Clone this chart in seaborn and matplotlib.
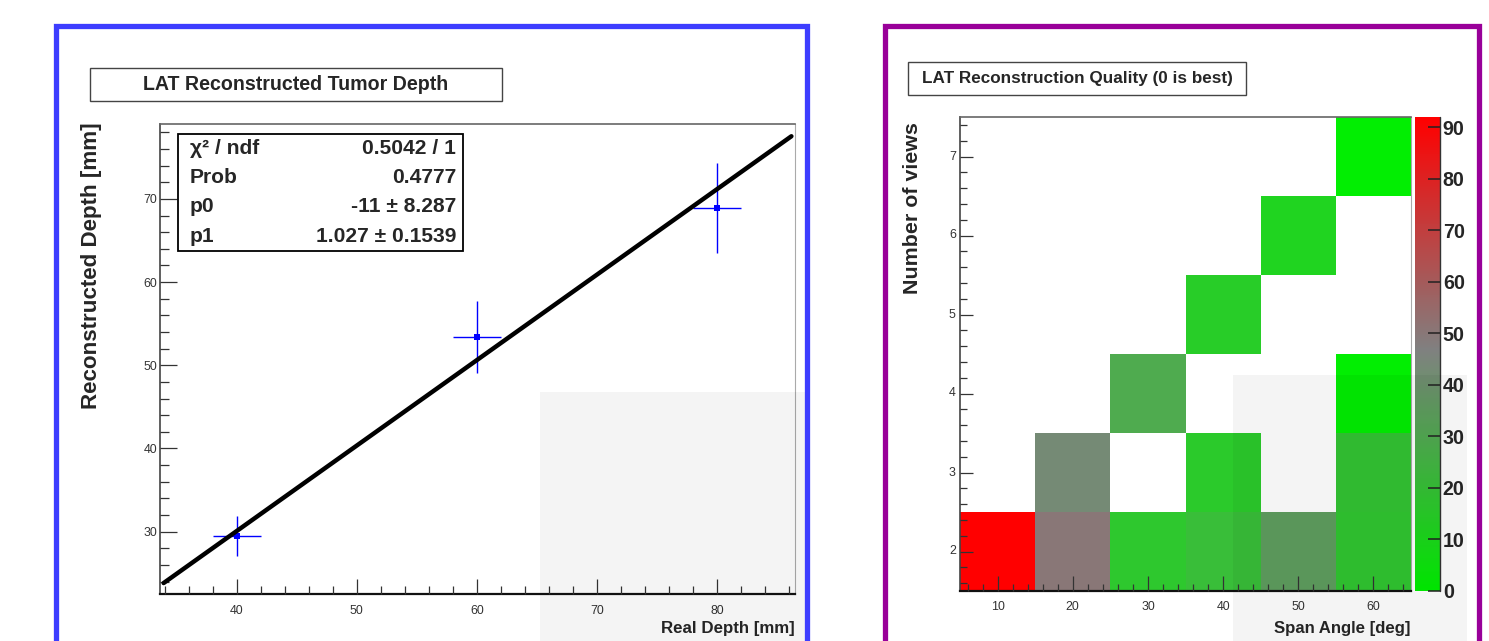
import numpy as np
import pandas as pd
import matplotlib
matplotlib.use("Agg")
import matplotlib.pyplot as plt
import seaborn as sns
from matplotlib import font_manager
from matplotlib.patches import Rectangle
from matplotlib.colors import LinearSegmentedColormap

# ---------------- data ----------------
real_depth = [40, 60, 80]
reco_depth = [29.5, 53.4, 68.9]
depth_xerr = [2.0, 2.0, 2.0]
depth_yerr = [2.4, 4.3, 5.4]
fit_p0 = -11.0
fit_p1 = 1.027
fit_range = [33.9, 86.2]
stats_labels = ["χ² / ndf", "Prob", "p0", "p1"]
stats_values = ["0.5042 / 1", "0.4777", "-11 ± 8.287", "1.027 ± 0.1539"]

span_angles = [10, 20, 30, 40, 50, 60]
n_views = [2, 3, 4, 5, 6, 7]
nan = np.nan
q_views2 = [92, 50, 17, 21, 35, 18]
q_views3 = [nan, 43, nan, 16, nan, 19]
q_views4 = [nan, nan, 29, nan, nan, 1]
q_views5 = [nan, nan, nan, 15, nan, nan]
q_views6 = [nan, nan, nan, nan, 12, nan]
q_views7 = [nan, nan, nan, nan, nan, 1]
cbar_ticks = list(range(0, 91, 10))

# ---------------- style ----------------
sns.set_style("white")
names = {f.name for f in font_manager.fontManager.ttflist}
if "Liberation Sans Narrow" in names:
    NARROW, NS = "Liberation Sans Narrow", 1.0
else:
    NARROW, NS = "Liberation Sans", 0.83
WIDE = "Liberation Sans"
plt.rcParams["font.family"] = [NARROW, "DejaVu Sans"]
plt.rcParams["axes.axisbelow"] = False
plt.rcParams["xtick.bottom"] = True
plt.rcParams["ytick.left"] = True

W, H = 1489, 641
fig = plt.figure(figsize=(W / 100, H / 100), dpi=100)
fig.patch.set_facecolor("white")


def rect(l, t, r, b):
    return [l / W, 1 - b / H, (r - l) / W, (b - t) / H]


def fx(px):
    return px / W


def fy(py):
    return 1 - py / H


TICKC = "#333333"
TICKFS = 10.8 * NS

# ---------------- left panel ----------------
ax1 = fig.add_axes(rect(160, 124, 795, 594))
ax1.set_facecolor("white")
ax1.set_axisbelow(False)
ax1.errorbar(real_depth, reco_depth, xerr=depth_xerr, yerr=depth_yerr,
             fmt="none", ecolor="#0000ff", elinewidth=1.0, capsize=0, zorder=3)
sns.scatterplot(x=real_depth, y=reco_depth, marker="s", s=18, color="#0000ff",
                edgecolor="#0000ff", linewidth=0, ax=ax1, zorder=4)
fit_y = [fit_p0 + fit_p1 * v for v in fit_range]
sns.lineplot(x=fit_range, y=fit_y, color="black", linewidth=3.2, ax=ax1, zorder=5)
ax1.set_xlim(33.6, 86.5)
ax1.set_ylim(22.5, 79)
ax1.set_xticks([40, 50, 60, 70, 80])
ax1.set_yticks([30, 40, 50, 60, 70])
ax1.set_xticks([v for v in range(34, 87, 2) if v % 10], minor=True)
ax1.set_yticks([v for v in range(24, 79, 2) if v % 10], minor=True)
ax1.tick_params(axis="x", which="major", direction="in", length=11, width=0.9,
                color=TICKC, pad=8, labelsize=TICKFS, labelcolor=TICKC, bottom=True)
ax1.tick_params(axis="x", which="minor", direction="in", length=5.5, width=0.9,
                color=TICKC, bottom=True)
ax1.tick_params(axis="y", which="major", direction="in", length=12, width=0.9,
                color=TICKC, pad=2, labelsize=TICKFS, labelcolor=TICKC, left=True)
ax1.tick_params(axis="y", which="minor", direction="in", length=6.5, width=0.9,
                color=TICKC, left=True)
ax1.set_xlabel("")
ax1.set_ylabel("")
for s, (c, lw) in {"bottom": ("#111111", 1.6), "left": ("#444444", 1.2),
                   "top": ("#666666", 1.2), "right": ("#aaaaaa", 0.8)}.items():
    ax1.spines[s].set_visible(True)
    ax1.spines[s].set_color(c)
    ax1.spines[s].set_linewidth(lw)

# stats box
fig.add_artist(Rectangle((fx(178), fy(251)), fx(463) - fx(178), fy(134) - fy(251),
                         transform=fig.transFigure, facecolor="white",
                         edgecolor="black", linewidth=1.3, zorder=6))
rows_y = [148.6, 177.9, 207.0, 236.4]
for lab, val, yy in zip(stats_labels, stats_values, rows_y):
    fig.text(fx(190), fy(yy), lab, ha="left", va="center", fontsize=18.2 * NS,
             fontweight="bold", family=[NARROW, "DejaVu Sans"], zorder=7)
    fig.text(fx(456), fy(yy), val, ha="right", va="center", fontsize=18.2 * NS,
             fontweight="bold", family=[NARROW, "DejaVu Sans"], zorder=7)

# title box left
fig.add_artist(Rectangle((fx(90), fy(101)), fx(502) - fx(90), fy(68) - fy(101),
                         transform=fig.transFigure, facecolor="white",
                         edgecolor="#444444", linewidth=1.0, zorder=6))
fig.text(fx(296), fy(84.5), "LAT Reconstructed Tumor Depth", ha="center", va="center",
         fontsize=17 * NS, fontweight="bold", zorder=7)

fig.text(fx(92), fy(122), "Reconstructed Depth [mm]", rotation=90, ha="center",
         va="top", fontsize=16.1, fontweight="bold", family=[WIDE, "DejaVu Sans"])
fig.text(fx(795), fy(629), "Real Depth [mm]", ha="right", va="center",
         fontsize=14.6 * NS, fontweight="bold")

# ---------------- right panel ----------------
ax2 = fig.add_axes(rect(960, 117, 1411, 591))
cax = fig.add_axes(rect(1415, 117, 1440, 591))
df = pd.DataFrame([q_views2, q_views3, q_views4, q_views5, q_views6, q_views7],
                  index=n_views, columns=span_angles)
cmap = LinearSegmentedColormap.from_list(
    "root_rg", [(0.0, "#00f000"), (47 / 92, "#808080"), (1.0, "#ff0000")])
sns.heatmap(df, ax=ax2, cmap=cmap, vmin=0, vmax=92, cbar_ax=cax, linewidths=0)
ax2.set_facecolor("white")
ax2.set_axisbelow(False)
cax.set_axisbelow(False)
ax2.set_xlim(0, 6)
ax2.set_ylim(0, 6)
ax2.set_xticks([(v - 5) / 10 for v in span_angles], labels=[str(v) for v in span_angles])
ax2.set_yticks([v - 1.5 for v in n_views], labels=[str(v) for v in n_views], rotation=0)
ax2.set_xticks([(v - 5) / 10 for v in range(6, 65, 2) if v % 10], minor=True)
ax2.set_yticks([round(v, 1) - 1.5 for v in np.arange(1.6, 7.45, 0.2)
                if abs(v - round(v)) > 0.05], minor=True)
ax2.tick_params(axis="x", which="major", direction="in", length=11, width=0.9,
                color=TICKC, pad=7, labelsize=TICKFS, labelcolor=TICKC, bottom=True)
ax2.tick_params(axis="x", which="minor", direction="in", length=5, width=0.9,
                color=TICKC, bottom=True)
ax2.tick_params(axis="y", which="major", direction="in", length=9.5, width=0.9,
                color=TICKC, pad=3, labelsize=TICKFS, labelcolor=TICKC, left=True)
ax2.tick_params(axis="y", which="minor", direction="in", length=5, width=0.9,
                color=TICKC, left=True)
for t in ax2.get_yticklabels():
    t.set_rotation(0)
ax2.set_xlabel("")
ax2.set_ylabel("")
for s, (c, lw) in {"bottom": ("#111111", 1.6), "left": ("#444444", 1.2),
                   "top": ("#666666", 1.2), "right": ("#aaaaaa", 0.8)}.items():
    ax2.spines[s].set_visible(True)
    ax2.spines[s].set_color(c)
    ax2.spines[s].set_linewidth(lw)

cbar = ax2.collections[0].colorbar
cbar.outline.set_visible(False)
cax.set_yticks(cbar_ticks, labels=[str(v) for v in cbar_ticks])
cax.tick_params(axis="y", which="both", direction="in", length=9, width=1.1,
                color="#222222", right=True, left=False, labelright=True,
                labelleft=False, pad=2, labelsize=17 * NS)
cax.minorticks_off()
for t in cax.get_yticklabels():
    t.set_fontweight("bold")
    t.set_family([NARROW, "DejaVu Sans"])
cax.plot([1, 1], [0, 1], transform=cax.transAxes, color="#333333", lw=1.0, clip_on=False)

fig.add_artist(Rectangle((fx(908), fy(95)), fx(1246) - fx(908), fy(62) - fy(95),
                         transform=fig.transFigure, facecolor="white",
                         edgecolor="#444444", linewidth=1.0, zorder=6))
fig.text(fx(1077), fy(78.5), "LAT Reconstruction Quality (0 is best)", ha="center",
         va="center", fontsize=14.9 * NS, fontweight="bold", zorder=7)
fig.text(fx(912), fy(122), "Number of views", rotation=90, ha="center", va="top",
         fontsize=15.4, fontweight="bold", family=[WIDE, "DejaVu Sans"])
fig.text(fx(1411), fy(628), "Span Angle [deg]", ha="right", va="center",
         fontsize=14.5 * NS, fontweight="bold")

# ---------------- faint grey overlays ----------------
for (l, t, r, b) in [(540, 392, 805, 645), (1233, 375, 1467, 645)]:
    fig.add_artist(Rectangle((fx(l), fy(b)), fx(r) - fx(l), fy(t) - fy(b),
                             transform=fig.transFigure, facecolor="black",
                             alpha=0.045, linewidth=0, zorder=20))

# ---------------- panel frames ----------------
fig.add_artist(Rectangle((fx(55.5), fy(700)), fx(807.5) - fx(55.5), fy(25.5) - fy(700),
                         transform=fig.transFigure, facecolor="none",
                         edgecolor="#3d3dff", linewidth=3.8, zorder=30))
fig.add_artist(Rectangle((fx(884.5), fy(700)), fx(1479) - fx(884.5), fy(26) - fy(700),
                         transform=fig.transFigure, facecolor="none",
                         edgecolor="#990099", linewidth=3.8, zorder=30))

fig.savefig("out.png", dpi=100, facecolor="white")
